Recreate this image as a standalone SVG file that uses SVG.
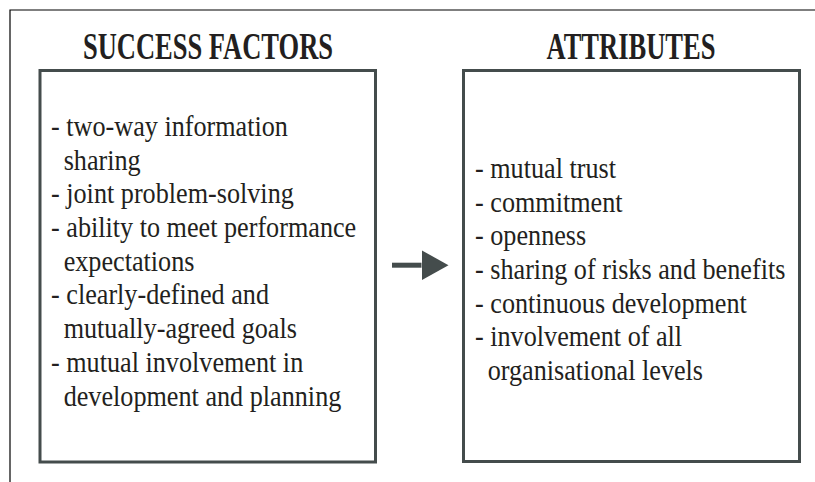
<svg xmlns="http://www.w3.org/2000/svg" width="815" height="482" viewBox="0 0 815 482">
  <style>
    .frame { stroke: #000; stroke-width: 1.2; fill: none; }
    .box { fill: #fff; stroke: #444c4c; stroke-width: 3; }
    .title { font-family: "Liberation Serif", "Times New Roman", serif; font-weight: bold; font-size: 38px; fill: #231f20; }
    .body { font-family: "Liberation Serif", "Times New Roman", serif; font-size: 30px; fill: #231f20; }
    .conn { stroke: #444c4c; stroke-width: 5; fill: none; }
  </style>
  <defs>
    <marker id="head" markerUnits="userSpaceOnUse" markerWidth="27" markerHeight="30" viewBox="0 0 27 30" refX="0" refY="15" orient="auto">
      <path d="M0,0 L27,15 L0,30 Z" fill="#444c4c"/>
    </marker>
  </defs>
  <rect width="815" height="482" fill="#fff"/>
  <path class="frame" d="M10,482 L10,10 L815,10"/>

  <g id="success-factors">
    <text class="title" x="208" y="59" text-anchor="middle" textLength="250" lengthAdjust="spacingAndGlyphs">SUCCESS FACTORS</text>
    <rect class="box" x="40" y="70.5" width="335.5" height="391.5"/>
    <g class="body" transform="translate(51,0) scale(0.873,1)">
      <text x="0" y="136">- two-way information</text>
      <text x="14.5" y="169.7">sharing</text>
      <text x="0" y="203.4">- joint problem-solving</text>
      <text x="0" y="237.1">- ability to meet performance</text>
      <text x="14.5" y="270.8">expectations</text>
      <text x="0" y="304.5">- clearly-defined and</text>
      <text x="14.5" y="338.2">mutually-agreed goals</text>
      <text x="0" y="371.9">- mutual involvement in</text>
      <text x="14.5" y="405.6">development and planning</text>
    </g>
  </g>

  <g id="attributes">
    <text class="title" x="631" y="59" text-anchor="middle" textLength="169" lengthAdjust="spacingAndGlyphs">ATTRIBUTES</text>
    <rect class="box" x="463.5" y="70.5" width="336" height="391"/>
    <g class="body" transform="translate(475,0) scale(0.873,1)">
      <text x="0" y="178">- mutual trust</text>
      <text x="0" y="211.7">- commitment</text>
      <text x="0" y="245.4">- openness</text>
      <text x="0" y="279.1">- sharing of risks and benefits</text>
      <text x="0" y="312.8">- continuous development</text>
      <text x="0" y="346.5">- involvement of all</text>
      <text x="14.5" y="380.2">organisational levels</text>
    </g>
  </g>

  <g id="connectors">
    <path class="conn" d="M392,265.2 L421.5,265.2" marker-end="url(#head)"/>
  </g>
</svg>
